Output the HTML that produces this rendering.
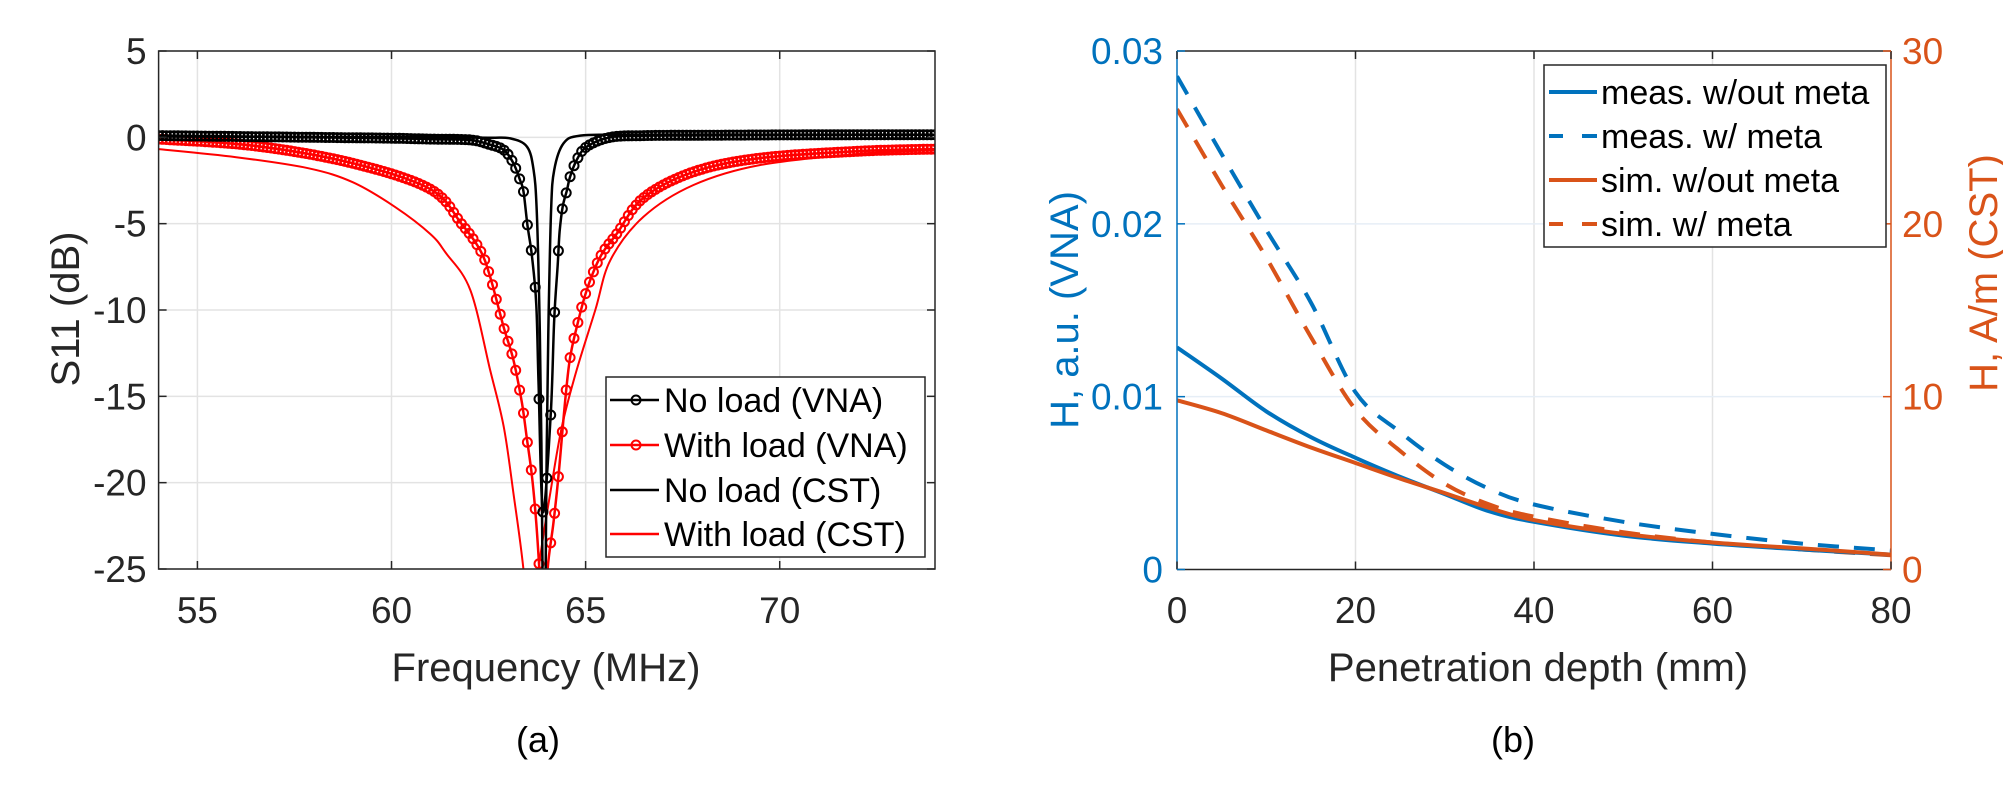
<!DOCTYPE html>
<html><head><meta charset="utf-8">
<style>
html,body{margin:0;padding:0;background:#fff;}
svg{display:block;font-family:"Liberation Sans",Arial,sans-serif;}
</style></head>
<body>
<svg id="fig" width="2003" height="787" viewBox="0 0 2003 787" xmlns="http://www.w3.org/2000/svg">
<defs>
<clipPath id="clipA"><rect x="158.6" y="51" width="776.4" height="518"/></clipPath>
<clipPath id="clipB"><rect x="1177" y="51" width="714" height="518.5"/></clipPath>
</defs>
<g id="panelA"></g>
<g id="panelB"></g>
<text x="538" y="752" font-size="36" text-anchor="middle" fill="#000">(a)</text>
<text x="1513" y="752" font-size="36" text-anchor="middle" fill="#000">(b)</text>
</svg>
<script>
// ---------- Panel A data ----------
const freqTicks = [55, 60, 65, 70];
const dbTicks = [5, 0, -5, -10, -15, -20, -25];
const noLoadVnaFreq = [54,56,58,60,61,62.03,62.5,62.89,63.14,63.31,63.40,63.50,63.62,63.73,63.79,63.90,64.10,64.19,64.28,64.33,64.41,64.52,64.60,64.77,65.03,65.63,66.5,68,70,72,74];
const noLoadVnaDb   = [0.1,0.05,0.0,-0.05,-0.1,-0.15,-0.4,-0.73,-1.5,-2.47,-3.14,-5.07,-6.91,-9.71,-14.34,-21.7,-16.08,-10.58,-7.39,-5.46,-4.01,-3.05,-2.28,-1.31,-0.54,0.0,0.1,0.12,0.14,0.15,0.15];
const withLoadVnaFreq = [54,56.5,59,61,61.8,62.28,62.54,62.89,63.14,63.36,63.49,63.62,63.73,63.81,63.92,64.02,64.17,64.30,64.45,64.59,64.77,65.03,65.38,65.81,66.49,67.78,69.5,72.08,74];
const withLoadVnaDb   = [-0.1,-0.5,-1.5,-3.0,-5.0,-6.52,-8.07,-11.0,-12.89,-15.4,-17.5,-19.65,-22.35,-25.05,-29,-25,-22.35,-19.65,-15.8,-12.9,-11.0,-8.84,-6.91,-5.56,-3.5,-2.0,-1.2,-0.8,-0.68];
const noLoadCstFreq = [54,58,61,62.5,63.06,63.49,63.66,63.74,63.81,63.86,63.93,64.00,64.05,64.11,64.19,64.43,64.86,66,70,74];
const noLoadCstDb   = [0.05,0.02,0,-0.02,-0.06,-0.54,-1.89,-4.21,-10.0,-17.7,-32,-17.7,-10,-4.2,-1.9,-0.35,0.1,0.15,0.15,0.15];
const withLoadCstFreq = [54,56,57.85,59,60.09,61,61.4,62.03,62.54,62.89,63.14,63.40,63.58,63.79,64.09,64.39,64.77,65.25,65.64,66.49,67.78,69.5,72.08,74];
const withLoadCstDb   = [-0.68,-1.15,-1.79,-2.6,-4.03,-5.6,-6.7,-8.84,-13.47,-16.75,-20.6,-25.05,-30,-25,-20.6,-16.75,-13.47,-10,-7.1,-4.6,-2.76,-1.6,-0.95,-0.75];

// ---------- Panel B data ----------
const depthTicks = [0, 20, 40, 60, 80];
const leftTicks = [0, 0.01, 0.02, 0.03];
const leftTickLabels = ["0", "0.01", "0.02", "0.03"];
const rightTicks = [0, 10, 20, 30];
const depthMm = [0,5,10,15,20,25,30,35,40,50,60,70,80];
const measWithoutMeta = [0.01285,0.01105,0.00915,0.00766,0.00646,0.00536,0.00436,0.00336,0.00276,0.00196,0.0015,0.00116,0.00086];
const measWithMeta    = [0.02854,0.02404,0.01965,0.01545,0.01025,0.00795,0.00606,0.00466,0.00376,0.00276,0.00206,0.0015,0.0011];
const simWithoutMeta  = [9.79,9.05,8.05,7.06,6.16,5.26,4.42,3.56,2.86,2.06,1.56,1.22,0.86];
const simWithMeta     = [26.64,22.24,18.05,13.45,9.25,6.86,4.96,3.76,3.06,2.16,1.56,1.16,0.82];

const NS = "http://www.w3.org/2000/svg";
function mk(tag, attrs, parent){const e=document.createElementNS(NS,tag);for(const k in attrs)e.setAttribute(k,attrs[k]);parent.appendChild(e);return e;}
function ctrl(pts,i){
  const p0=pts[Math.max(0,i-1)],p1=pts[i],p2=pts[i+1],p3=pts[Math.min(pts.length-1,i+2)];
  return [p1,[p1[0]+(p2[0]-p0[0])/6,p1[1]+(p2[1]-p0[1])/6],[p2[0]-(p3[0]-p1[0])/6,p2[1]-(p3[1]-p1[1])/6],p2];
}
function smooth(pts){
  let d='M'+pts[0][0].toFixed(1)+' '+pts[0][1].toFixed(1);
  for(let i=0;i<pts.length-1;i++){
    const c=ctrl(pts,i);
    d+=' C'+c[1][0].toFixed(1)+' '+c[1][1].toFixed(1)+' '+c[2][0].toFixed(1)+' '+c[2][1].toFixed(1)+' '+c[3][0].toFixed(1)+' '+c[3][1].toFixed(1);
  }
  return d;
}
function dense(pts){
  const out=[pts[0]];
  for(let i=0;i<pts.length-1;i++){
    const c=ctrl(pts,i);
    for(let k=1;k<=30;k++){
      const t=k/30,u=1-t;
      out.push([u*u*u*c[0][0]+3*u*u*t*c[1][0]+3*u*t*t*c[2][0]+t*t*t*c[3][0],
                u*u*u*c[0][1]+3*u*u*t*c[1][1]+3*u*t*t*c[2][1]+t*t*t*c[3][1]]);
    }
  }
  return out;
}

// ---------- Panel A ----------
(function(){
  const g = document.getElementById('panelA');
  const X0=158.6, X1=935, Y0=51, Y1=569;
  const fx = f => X0 + (f-54)/(74-54)*(X1-X0);
  const fy = d => Y0 + (5-d)/(30)*(Y1-Y0);
  freqTicks.forEach(t=>{
    const l=mk('line',{x1:fx(t),x2:fx(t),y1:Y0,y2:Y1,stroke:'#e3e3e3','stroke-width':1.5},g);
    
    
  });
  dbTicks.forEach(t=>{
    const l=mk('line',{x1:X0,x2:X1,y1:fy(t),y2:fy(t),stroke:'#e3e3e3','stroke-width':1.5},g);
    
    
  });
  const plot = mk('g',{'clip-path':'url(#clipA)'},g);
  
  
  function series(fs,ds,color,w,name,markers){
    const pts=fs.map((f,i)=>[fx(f),fy(ds[i])]);
    const p=mk('path',{d:smooth(pts),fill:'none',stroke:color,'stroke-width':w,'stroke-linejoin':'round'},plot);
    
    
    if(markers){
      const dp=dense(pts);
      const mg=mk('g',{fill:'none',stroke:color,'stroke-width':2},plot);
      
      
      let j=1;
      for(let f=fs[0]; f<=fs[fs.length-1]+1e-9; f+=0.1){
        const x=fx(f);
        while(j<dp.length-1 && dp[j][0]<x) j++;
        const a=dp[j-1],b=dp[j];
        const t=(b[0]-a[0])?Math.min(1,Math.max(0,(x-a[0])/(b[0]-a[0]))):0;
        const y=a[1]+t*(b[1]-a[1]);
        const c=mk('circle',{cx:x.toFixed(1),cy:y.toFixed(1),r:4.5},mg);
        
        
      }
    }
  }
  series(withLoadCstFreq,withLoadCstDb,'#ff0000',2,'with-load-cst-line',false);
  series(withLoadVnaFreq,withLoadVnaDb,'#ff0000',2.5,'with-load-vna-line',true);
  series(noLoadCstFreq,noLoadCstDb,'#000000',2.5,'no-load-cst-line',false);
  series(noLoadVnaFreq,noLoadVnaDb,'#000000',2.5,'no-load-vna-line',true);
  const box=mk('rect',{x:X0,y:Y0,width:X1-X0,height:Y1-Y0,fill:'none',stroke:'#262626','stroke-width':1.5},g);
  
  
  freqTicks.forEach(t=>{
    mk('line',{x1:fx(t),x2:fx(t),y1:Y1,y2:Y1-8,stroke:'#262626','stroke-width':1.5},g);
    mk('line',{x1:fx(t),x2:fx(t),y1:Y0,y2:Y0+8,stroke:'#262626','stroke-width':1.5},g);
    const tx=mk('text',{x:fx(t),y:623,'font-size':37,'text-anchor':'middle',fill:'#262626'},g);
    tx.textContent=t;
    
    
  });
  dbTicks.forEach(t=>{
    mk('line',{x1:X0,x2:X0+8,y1:fy(t),y2:fy(t),stroke:'#262626','stroke-width':1.5},g);
    mk('line',{x1:X1,x2:X1-8,y1:fy(t),y2:fy(t),stroke:'#262626','stroke-width':1.5},g);
    const tx=mk('text',{x:X0-12,y:fy(t)+13,'font-size':37,'text-anchor':'end',fill:'#262626'},g);
    tx.textContent=t;
    
    
  });
  const xl=mk('text',{x:546,y:681,'font-size':40,'text-anchor':'middle',fill:'#262626'},g);
  xl.textContent='Frequency (MHz)';
  
  
  const yl=mk('text',{x:0,y:0,'font-size':40,'text-anchor':'middle',fill:'#262626',transform:'translate(79,309) rotate(-90)'},g);
  yl.textContent='S11 (dB)';
  
  
  const lg=mk('g',{},g);
  
  
  mk('rect',{x:606,y:377,width:319,height:180,fill:'#fff',stroke:'#262626','stroke-width':1.5},lg);
  const entries=[['No load (VNA)','#000',true],['With load (VNA)','#ff0000',true],['No load (CST)','#000',false],['With load (CST)','#ff0000',false]];
  const rows=[400,445,490,534];
  entries.forEach((e,i)=>{
    const eg=mk('g',{},lg);
    
    
    mk('line',{x1:610,x2:659,y1:rows[i],y2:rows[i],stroke:e[1],'stroke-width':2.5},eg);
    if(e[2]) mk('circle',{cx:636,cy:rows[i],r:4.5,fill:'none',stroke:e[1],'stroke-width':2},eg);
    const t=mk('text',{x:664,y:rows[i]+12,'font-size':34,fill:'#000'},eg);
    t.textContent=e[0];
  });
})();

// ---------- Panel B ----------
(function(){
  const g=document.getElementById('panelB');
  const X0=1177, X1=1891, Y0=51, Y1=569.5;
  const BLUE='#0072BD', ORANGE='#D95319';
  const dx=d=>X0+d/80*(X1-X0);
  const ly=v=>Y1-v/0.03*(Y1-Y0);
  const ry=v=>Y1-v/30*(Y1-Y0);
  depthTicks.slice(1,-1).forEach(t=>{
    const l=mk('line',{x1:dx(t),x2:dx(t),y1:Y0,y2:Y1,stroke:'#e3e3e3','stroke-width':1.5},g);
    
    
  });
  leftTicks.slice(1,-1).forEach(t=>{
    const l=mk('line',{x1:X0,x2:X1,y1:ly(t),y2:ly(t),stroke:'#e6eef6','stroke-width':1.5},g);
    
    
  });
  const plot=mk('g',{'clip-path':'url(#clipB)'},g);
  
  
  function line(vals,yf,color,dash,name){
    const pts=depthMm.map((x,i)=>[dx(x),yf(vals[i])]);
    const p=mk('path',{d:smooth(pts),fill:'none',stroke:color,'stroke-width':4,'stroke-linejoin':'round'},plot);
    if(dash)p.setAttribute('stroke-dasharray','21 15');
    
    
  }
  line(measWithMeta,ly,BLUE,true,'meas-with-meta-line');
  line(simWithMeta,ry,ORANGE,true,'sim-with-meta-line');
  line(measWithoutMeta,ly,BLUE,false,'meas-without-meta-line');
  line(simWithoutMeta,ry,ORANGE,false,'sim-without-meta-line');
  mk('line',{x1:X0,x2:X1,y1:Y0,y2:Y0,stroke:'#262626','stroke-width':1.5},g);
  mk('line',{x1:X0,x2:X1,y1:Y1,y2:Y1,stroke:'#262626','stroke-width':1.5},g);
  const la=mk('line',{x1:X0,x2:X0,y1:Y0,y2:Y1,stroke:BLUE,'stroke-width':1.5},g);
  
  
  const ra=mk('line',{x1:X1,x2:X1,y1:Y0,y2:Y1,stroke:ORANGE,'stroke-width':1.5},g);
  
  
  depthTicks.forEach(t=>{
    mk('line',{x1:dx(t),x2:dx(t),y1:Y1,y2:Y1-8,stroke:'#262626','stroke-width':1.5},g);
    mk('line',{x1:dx(t),x2:dx(t),y1:Y0,y2:Y0+8,stroke:'#262626','stroke-width':1.5},g);
    const tx=mk('text',{x:dx(t),y:623,'font-size':37,'text-anchor':'middle',fill:'#262626'},g);
    tx.textContent=t;
    
    
  });
  leftTicks.forEach((t,i)=>{
    mk('line',{x1:X0,x2:X0+8,y1:ly(t),y2:ly(t),stroke:BLUE,'stroke-width':1.5},g);
    const tx=mk('text',{x:X0-14,y:ly(t)+13,'font-size':37,'text-anchor':'end',fill:BLUE},g);
    tx.textContent=leftTickLabels[i];
    
    
  });
  rightTicks.forEach(t=>{
    mk('line',{x1:X1,x2:X1-8,y1:ry(t),y2:ry(t),stroke:ORANGE,'stroke-width':1.5},g);
    const tx=mk('text',{x:X1+11,y:ry(t)+13,'font-size':37,'text-anchor':'start',fill:ORANGE},g);
    tx.textContent=t;
    
    
  });
  const xl=mk('text',{x:1538,y:681,'font-size':40,'text-anchor':'middle',fill:'#262626'},g);
  xl.textContent='Penetration depth (mm)';
  
  
  const yl=mk('text',{x:0,y:0,'font-size':40,'text-anchor':'middle',fill:BLUE,transform:'translate(1078,310) rotate(-90)'},g);
  yl.textContent='H, a.u. (VNA)';
  
  
  const yr=mk('text',{x:0,y:0,'font-size':40,'text-anchor':'middle',fill:ORANGE,transform:'translate(1997,273) rotate(-90)'},g);
  yr.textContent='H, A/m (CST)';
  
  
  const lg=mk('g',{},g);
  
  
  mk('rect',{x:1544,y:65,width:342,height:182,fill:'#fff',stroke:'#262626','stroke-width':1.5},lg);
  const entries=[['meas. w/out meta',BLUE,false],['meas. w/ meta',BLUE,true],['sim. w/out meta',ORANGE,false],['sim. w/ meta',ORANGE,true]];
  const rows=[92,136,180,224];
  entries.forEach((e,i)=>{
    const eg=mk('g',{},lg);
    
    
    const l=mk('line',{x1:1549,x2:1597,y1:rows[i],y2:rows[i],stroke:e[1],'stroke-width':4},eg);
    if(e[2])l.setAttribute('stroke-dasharray','14 19 15');
    const t=mk('text',{x:1601,y:rows[i]+12,'font-size':34,fill:'#000'},eg);
    t.textContent=e[0];
  });
})();
</script>
</body></html>
